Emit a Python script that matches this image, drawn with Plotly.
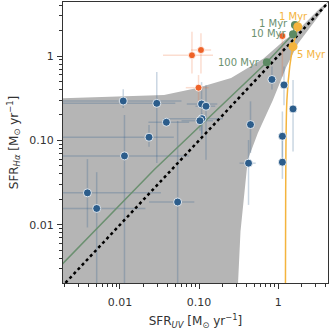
import math

import plotly.graph_objects as go

# observed galaxies (blue): SFR_UV, SFR_Halpha and error-bar bounds
blue_uv = [0.011, 0.0292, 0.0386, 0.0233, 0.0114, 0.1076, 0.1224, 0.1088, 0.1026, 0.00388,
           0.00508, 0.0536, 0.447, 0.422, 0.834, 1.185, 1.542, 1.131, 1.131]
blue_ha = [0.293, 0.275, 0.164, 0.109, 0.0655, 0.270, 0.254, 0.181, 0.171, 0.0239,
           0.0156, 0.0186, 0.154, 0.0537, 0.527, 0.454, 0.236, 0.112, 0.0552]
blue_uv_lo = [0.0012, 0.0015, 0.0229, 0.0012, 0.0012, 0.07, 0.09, 0.035, 0.06, 0.0012,
              0.0012, 0.0233, 0.42, 0.325, 0.80, 1.10, 1.50, 1.10, 1.10]
blue_uv_hi = [0.06, 0.05, 0.075, 0.048, 0.075, 0.17, 0.16, 0.20, 0.15, 0.033,
              0.021, 0.087, 0.47, 0.52, 0.87, 1.27, 1.58, 1.16, 1.16]
blue_ha_lo = [0.242, 0.0541, 0.150, 0.084, 0.0012, 0.101, 0.059, 0.12, 0.13, 0.0093,
              0.0012, 0.0012, 0.071, 0.0172, 0.40, 0.26, 0.074, 0.055, 0.035]
blue_ha_hi = [0.405, 0.646, 0.180, 0.152, 0.20, 0.49, 0.45, 0.21, 0.20, 0.06,
              0.042, 0.17, 0.29, 0.101, 0.75, 0.75, 0.52, 0.22, 0.10]

# observed galaxies (orange)
red_uv = [0.0813, 0.1057, 0.0985, 1.131]
red_ha = [1.02, 1.178, 0.421, 1.725]
red_uv_lo = [0.035, 0.079, 0.068, 1.10]
red_uv_hi = [0.15, 0.142, 0.132, 1.16]
red_ha_lo = [0.62, 0.62, 0.25, 0.57]
red_ha_hi = [1.94, 1.86, 0.595, 1.94]

# constant-SFR model track
const_uv = [0.0018, 0.027, 0.72, 1.54, 1.63]
const_ha = [0.0033, 0.0448, 0.842, 1.81, 2.33]
const_age_uv = [0.72, 1.54, 1.63]
const_age_ha = [0.842, 1.81, 2.33]
const_age_lbl = ["100 Myr", "10 Myr", "1 Myr"]

# burst model track
burst_uv = [1.77, 1.54, 1.40, 1.29, 1.245, 1.235]
burst_ha = [2.22, 1.29, 0.747, 0.301, 0.026, 0.0012]
burst_age_uv = [1.77, 1.54]
burst_age_ha = [2.22, 1.29]
burst_age_lbl = ["1 Myr", "5 Myr"]

# shaded region of allowed models (outline)
shade_uv = [0.001, 0.001, 0.0361, 0.0949, 0.254, 0.654, 1.21, 1.70, 3.37, 4.3,
            3.71, 1.785, 1.27, 0.859, 0.554, 0.413, 0.334, 0.303, 0.30]
shade_ha = [0.001, 0.310, 0.346, 0.418, 0.549, 0.934, 1.55, 1.94, 3.67, 4.4,
            3.50, 1.41, 0.747, 0.302, 0.1227, 0.0588, 0.00833, 0.00207, 0.001]

one_to_one = [0.001, 10]

BLUE = "#2c5d8b"
RED = "#ee6228"
GREEN = "#6b9070"
GOLD = "#f4b43e"


def _err(v, lo, hi):
    return [h - x for x, h in zip(v, hi)], [x - l for x, l in zip(v, lo)]


fig = go.Figure()

fig.add_trace(go.Scatter(x=shade_uv, y=shade_ha, fill="toself", fillcolor="#b5b5b5",
                         line=dict(width=0), mode="lines", hoverinfo="skip"))

bx_p, bx_m = _err(blue_uv, blue_uv_lo, blue_uv_hi)
by_p, by_m = _err(blue_ha, blue_ha_lo, blue_ha_hi)
fig.add_trace(go.Scatter(
    x=blue_uv, y=blue_ha, mode="markers",
    marker=dict(size=8, color="rgba(0,0,0,0)"),
    error_x=dict(type="data", array=bx_p, arrayminus=bx_m, color="rgba(45,93,139,0.25)", thickness=1.5, width=0),
    error_y=dict(type="data", array=by_p, arrayminus=by_m, color="rgba(45,93,139,0.25)", thickness=1.5, width=0),
))
rx_p, rx_m = _err(red_uv, red_uv_lo, red_uv_hi)
ry_p, ry_m = _err(red_ha, red_ha_lo, red_ha_hi)
fig.add_trace(go.Scatter(
    x=red_uv, y=red_ha, mode="markers",
    marker=dict(size=8, color="rgba(0,0,0,0)"),
    error_x=dict(type="data", array=rx_p, arrayminus=rx_m, color="rgba(238,98,40,0.22)", thickness=1.5, width=0),
    error_y=dict(type="data", array=ry_p, arrayminus=ry_m, color="rgba(238,98,40,0.22)", thickness=1.5, width=0),
))

fig.add_trace(go.Scatter(x=one_to_one, y=one_to_one, mode="lines",
                         line=dict(color="black", width=2.5, dash="dot")))
fig.add_trace(go.Scatter(x=const_uv, y=const_ha, mode="lines", line=dict(color=GREEN, width=1.5)))
fig.add_trace(go.Scatter(x=burst_uv, y=burst_ha, mode="lines",
                         line=dict(color=GOLD, width=1.5, shape="spline")))

fig.add_trace(go.Scatter(x=blue_uv, y=blue_ha, mode="markers",
                         marker=dict(size=8, color=BLUE, line=dict(color="white", width=0.8))))
fig.add_trace(go.Scatter(x=red_uv, y=red_ha, mode="markers",
                         marker=dict(size=7, color=RED, line=dict(color="white", width=0.8))))
fig.add_trace(go.Scatter(x=const_age_uv, y=const_age_ha, mode="markers",
                         marker=dict(size=8, color="#5c8a63")))
fig.add_trace(go.Scatter(x=burst_age_uv, y=burst_age_ha, mode="markers",
                         marker=dict(size=9, color=GOLD)))

for u, h, t, dy in zip(const_age_uv, const_age_ha, const_age_lbl, [0, 1, 2]):
    fig.add_annotation(x=math.log10(u), y=math.log10(h), text=t, showarrow=False,
                       xanchor="right", xshift=-5, yshift=dy,
                       font=dict(size=10, color=GREEN, family="DejaVu Sans"))
fig.add_annotation(x=math.log10(burst_age_uv[0]), y=math.log10(burst_age_ha[0]), text=burst_age_lbl[0],
                   showarrow=False, xanchor="center", yanchor="bottom", yshift=3, xshift=-4,
                   font=dict(size=10, color=GOLD, family="DejaVu Sans"))
fig.add_annotation(x=math.log10(burst_age_uv[1]), y=math.log10(burst_age_ha[1]), text=burst_age_lbl[1],
                   showarrow=False, xanchor="left", yanchor="top", xshift=2, yshift=0,
                   font=dict(size=10, color=GOLD, family="DejaVu Sans"))

minor_vals = [m * 10 ** e for e in range(-3, 1) for m in range(2, 10)]
axis_common = dict(
    type="log", showgrid=False, zeroline=False, ticks="outside", ticklen=5, tickwidth=1,
    tickcolor="#333", showline=True, linecolor="#333", linewidth=1, mirror=True,
    tickvals=[0.01, 0.1, 1], ticktext=["0.01", "0.10", "1"], automargin=False,
    tickfont=dict(size=11, color="#333", family="DejaVu Sans"),
    minor=dict(tickvals=minor_vals, ticks="outside", ticklen=3, tickcolor="#333", showgrid=False),
)
fig.update_xaxes(range=[-2.72, 0.63], **axis_common, ticklabelstandoff=4,
                 title=dict(text="SFR<sub><i>UV</i></sub> [M<sub>⊙</sub> yr<sup>−1</sup>]",
                            font=dict(size=12, color="#333", family="DejaVu Sans"), standoff=9))
fig.update_yaxes(range=[-2.69, 0.64], **axis_common, ticklabelstandoff=1,
                 title=dict(text="SFR<sub><i>Hα</i></sub> [M<sub>⊙</sub> yr<sup>−1</sup>]",
                            font=dict(size=12, color="#333", family="DejaVu Sans"), standoff=8))
fig.update_layout(
    width=330, height=330, showlegend=False,
    paper_bgcolor="white", plot_bgcolor="white",
    margin=dict(l=63, r=2, t=2, b=47, autoexpand=False),
)
fig.write_html("out.html", config={"displayModeBar": False},
               post_script="document.body.style.margin='0';")
